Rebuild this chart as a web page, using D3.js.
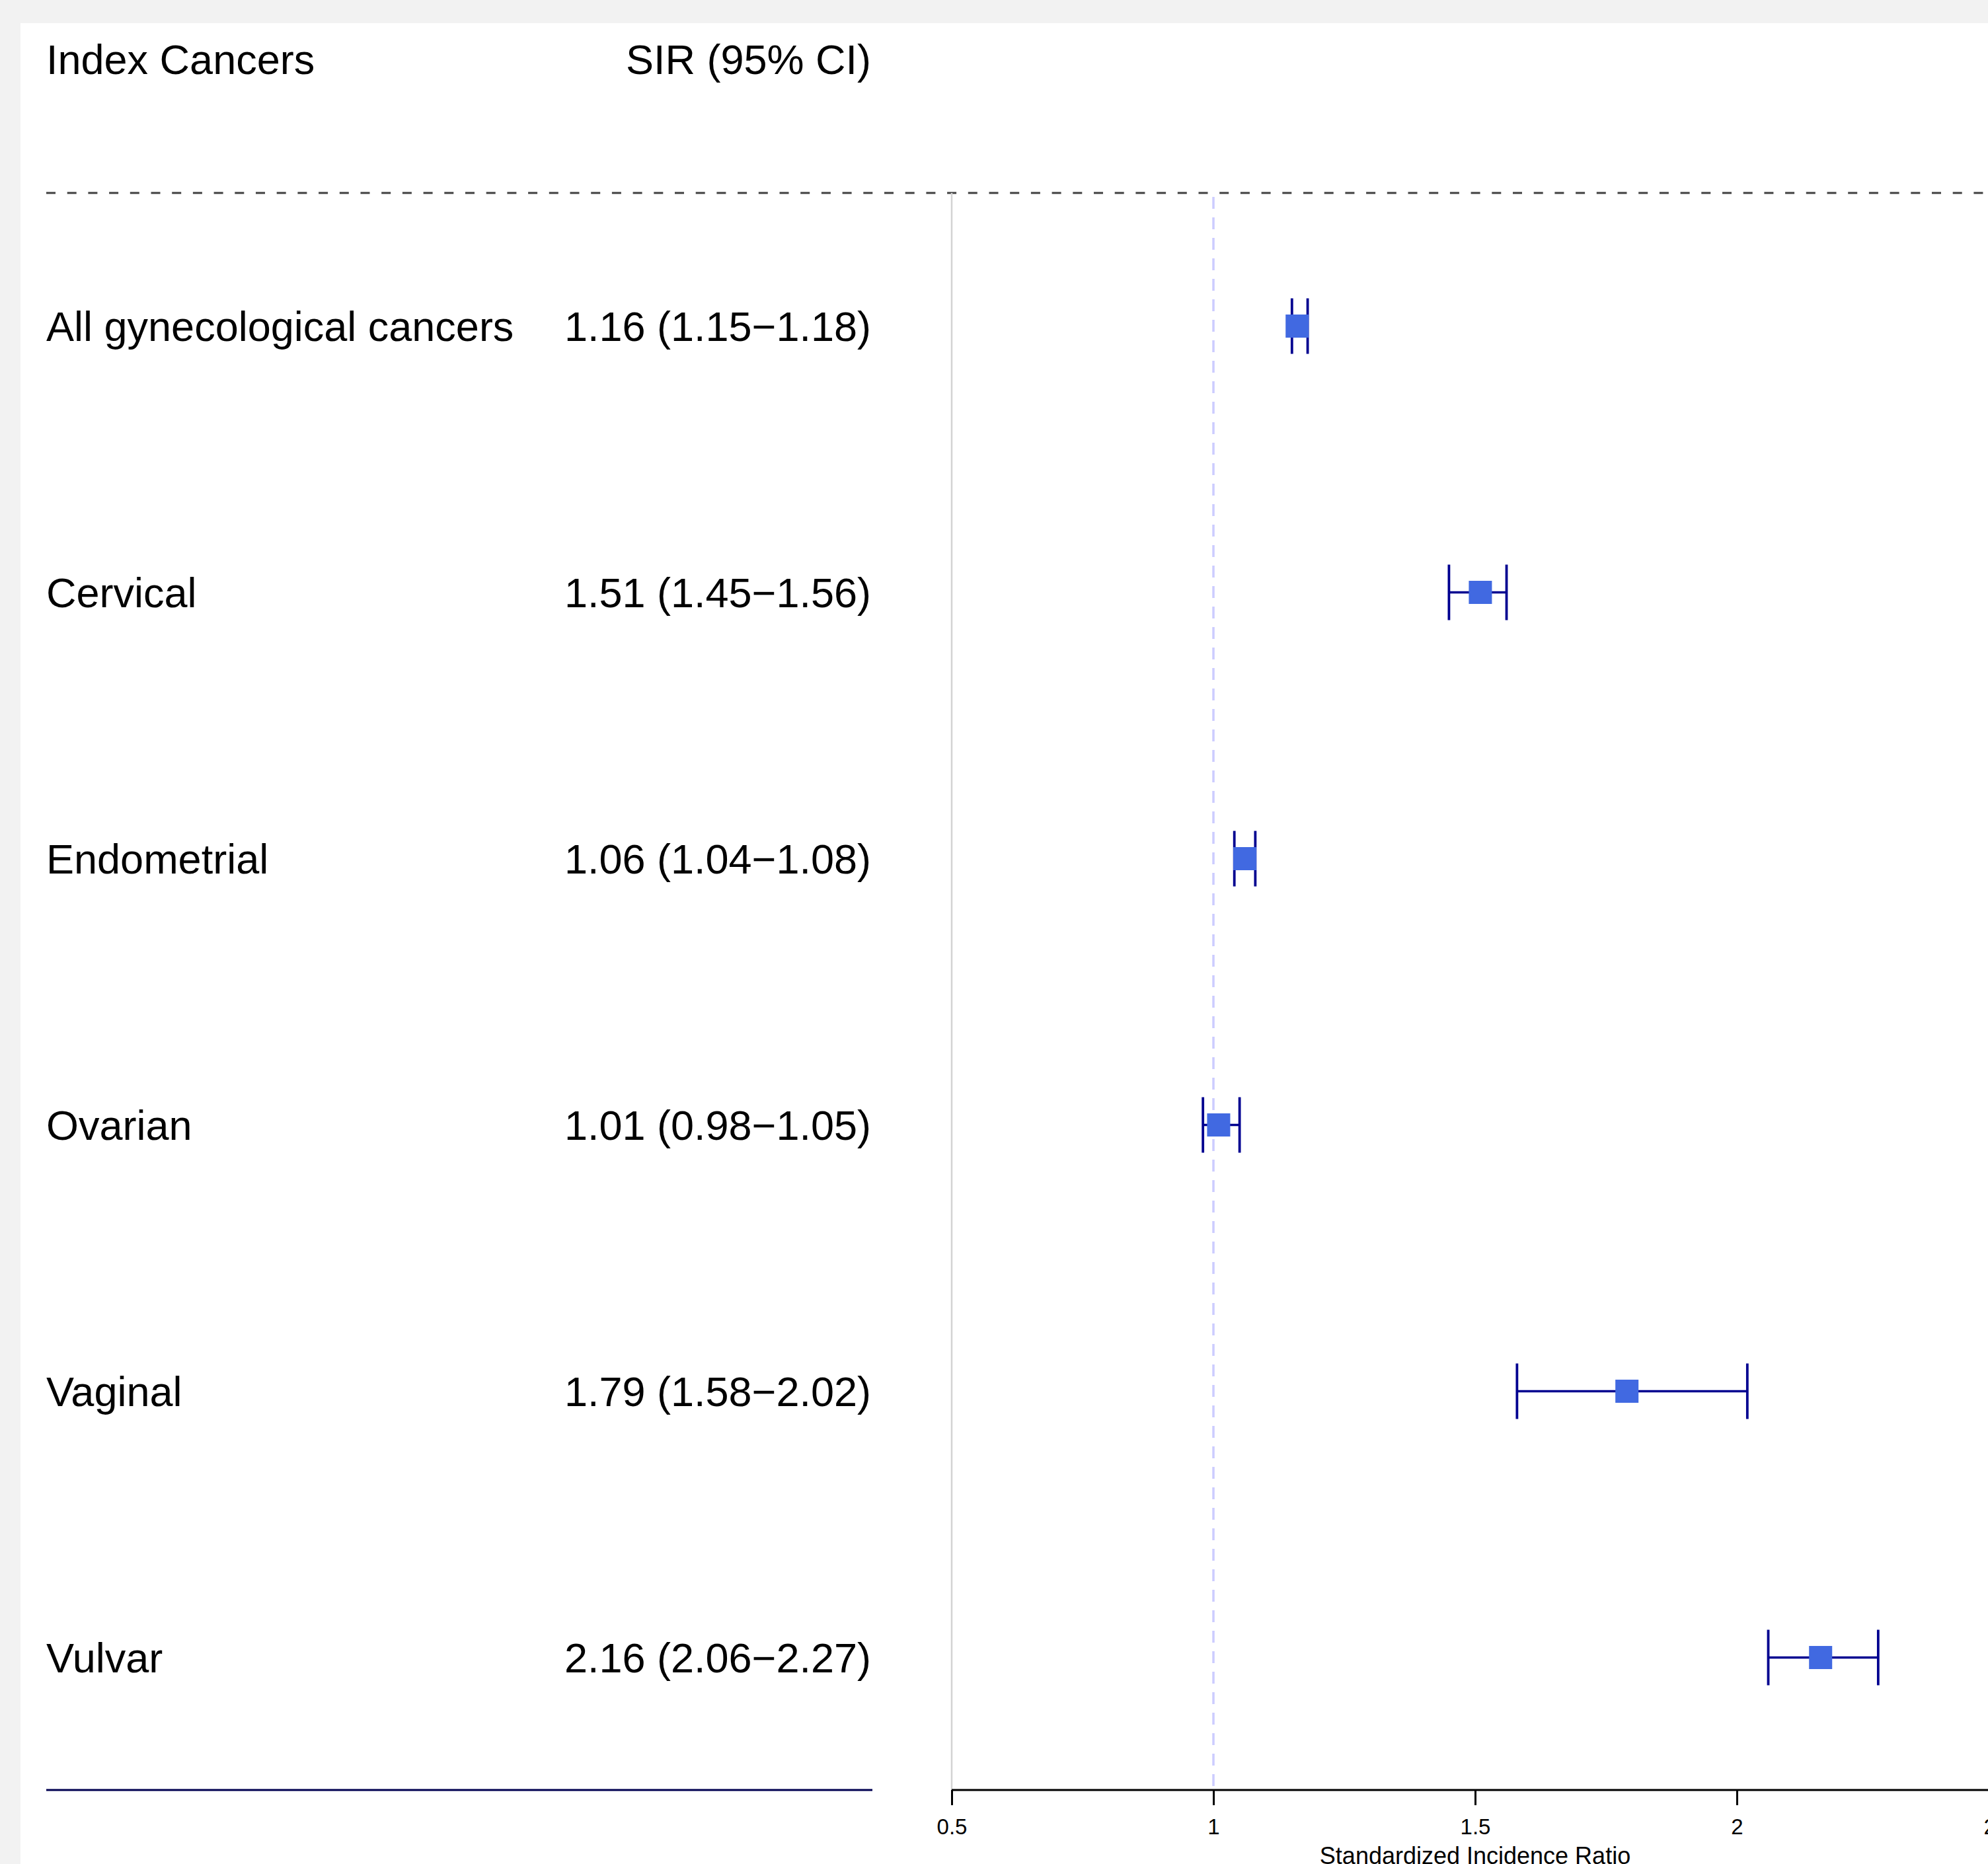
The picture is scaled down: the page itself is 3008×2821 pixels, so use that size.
<!DOCTYPE html>
<html>
<head>
<meta charset="utf-8">
<script src="https://cdn.jsdelivr.net/npm/d3@7"></script>
<style>
  html, body { margin: 0; padding: 0; background: #f2f2f2; overflow: hidden; }
  svg { display: block; }
  text { font-family: "Liberation Sans", Arial, sans-serif; fill: #000; }
</style>
</head>
<body>
<svg id="chart" width="3008" height="2821"></svg>
<script>
// ---- data ----
const categories = ["All gynecological cancers", "Cervical", "Endometrial", "Ovarian", "Vaginal", "Vulvar"];
const sir   = [1.16, 1.51, 1.06, 1.01, 1.79, 2.16];
const lower = [1.15, 1.45, 1.04, 0.98, 1.58, 2.06];
const upper = [1.18, 1.56, 1.08, 1.05, 2.02, 2.27];
const sirLabels = ["1.16 (1.15\u22121.18)", "1.51 (1.45\u22121.56)", "1.06 (1.04\u22121.08)",
                   "1.01 (0.98\u22121.05)", "1.79 (1.58\u22122.02)", "2.16 (2.06\u22122.27)"];
const xTicks = [0.5, 1, 1.5, 2, 2.5];
const xTickLabels = ["0.5", "1", "1.5", "2", "2.5"];
const headers = ["Index Cancers", "SIR (95% CI)"];
const xTitle = "Standardized Incidence Ratio";
const refValue = 1;

const rows = categories.map((c, i) => ({ cat: c, sir: sir[i], lo: lower[i], hi: upper[i], label: sirLabels[i] }));

// ---- layout ----
const W = 3008, H = 2821;
const svg = d3.select("#chart");

// white panel
svg.append("rect").attr("x", 31).attr("y", 35).attr("width", W - 31).attr("height", H - 35).attr("fill", "#ffffff");

const x = d3.scaleLinear().domain([0.5, 2.5]).range([1440, 3024]);
const y = d3.scalePoint().domain(categories).range([493.5, 2508.5]);

const topY = 292, axisY = 2709;
const fontSize = 63;

// headers
svg.append("text").attr("x", 70).attr("y", 112).attr("font-size", fontSize).text(headers[0]);
svg.append("text").attr("x", 1318).attr("y", 112).attr("font-size", fontSize).attr("text-anchor", "end").text(headers[1]);

// dashed separator
svg.append("line").attr("x1", 70).attr("x2", W).attr("y1", topY).attr("y2", topY)
  .attr("stroke", "#404040").attr("stroke-width", 3).attr("stroke-dasharray", "14,17.7");

// left bottom line
svg.append("line").attr("x1", 70).attr("x2", 1320).attr("y1", axisY).attr("y2", axisY)
  .attr("stroke", "#000050").attr("stroke-width", 3);

// gray left border of plot
svg.append("line").attr("x1", x(0.5)).attr("x2", x(0.5)).attr("y1", topY).attr("y2", axisY)
  .attr("stroke", "#d3d3d3").attr("stroke-width", 2.5);

// reference line
svg.append("line").attr("x1", x(refValue)).attr("x2", x(refValue)).attr("y1", topY).attr("y2", axisY)
  .attr("stroke", "#ccccff").attr("stroke-width", 3.5).attr("stroke-dasharray", "18,13").attr("stroke-dashoffset", -6);

// row labels
svg.selectAll("text.cat").data(rows).join("text").attr("class", "cat")
  .attr("x", 70).attr("y", d => y(d.cat) + 22).attr("font-size", fontSize).text(d => d.cat);
svg.selectAll("text.sir").data(rows).join("text").attr("class", "sir")
  .attr("x", 1318).attr("y", d => y(d.cat) + 22).attr("font-size", fontSize).attr("text-anchor", "end").text(d => d.label);

// error bars
const ebColor = "#000090";
const g = svg.append("g");
g.selectAll("line.h").data(rows).join("line").attr("class", "h")
  .attr("x1", d => x(d.lo)).attr("x2", d => x(d.hi)).attr("y1", d => y(d.cat)).attr("y2", d => y(d.cat))
  .attr("stroke", ebColor).attr("stroke-width", 3.3);
g.selectAll("line.l").data(rows).join("line").attr("class", "l")
  .attr("x1", d => x(d.lo)).attr("x2", d => x(d.lo)).attr("y1", d => y(d.cat) - 42).attr("y2", d => y(d.cat) + 42)
  .attr("stroke", ebColor).attr("stroke-width", 3.8);
g.selectAll("line.r").data(rows).join("line").attr("class", "r")
  .attr("x1", d => x(d.hi)).attr("x2", d => x(d.hi)).attr("y1", d => y(d.cat) - 42).attr("y2", d => y(d.cat) + 42)
  .attr("stroke", ebColor).attr("stroke-width", 3.8);
g.selectAll("rect.pt").data(rows).join("rect").attr("class", "pt")
  .attr("x", d => x(d.sir) - 17.5).attr("y", d => y(d.cat) - 17.5).attr("width", 35).attr("height", 35)
  .attr("fill", "#4169e1");

// x axis
const axis = d3.axisBottom(x).tickValues(xTicks).tickFormat((d, i) => xTickLabels[i]).tickSize(23).tickPadding(21);
const ax = svg.append("g").attr("transform", `translate(0,${axisY})`).call(axis);
ax.select(".domain").attr("d", `M${x(0.5)},0H${W + 10}`).attr("stroke", "#000").attr("stroke-width", 3.2);
ax.selectAll(".tick line").attr("stroke", "#000").attr("stroke-width", 3);
ax.selectAll(".tick text").attr("font-size", 33).attr("font-family", "Liberation Sans, Arial, sans-serif").attr("fill", "#000");

svg.append("text").attr("x", x(1.5)).attr("y", 2821).attr("text-anchor", "middle").attr("font-size", 36).text(xTitle);
</script>
</body>
</html>
